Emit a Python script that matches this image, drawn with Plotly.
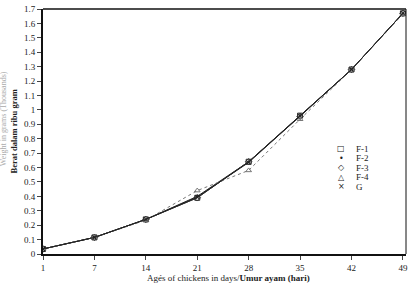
import plotly.graph_objects as go

ages = ["1", "7", "14", "21", "28", "35", "42", "49"]
f1 = [0.035, 0.115, 0.24, 0.39, 0.64, 0.96, 1.28, 1.67]
f2 = [0.035, 0.115, 0.24, 0.40, 0.64, 0.96, 1.28, 1.67]
f3 = [0.035, 0.115, 0.24, 0.39, 0.64, 0.955, 1.28, 1.67]
f4 = [0.035, 0.115, 0.235, 0.44, 0.58, 0.935, 1.28, 1.665]
g = [0.035, 0.115, 0.24, 0.395, 0.635, 0.96, 1.28, 1.67]
names = ["F-1", "F-2", "F-3", "F-4", "G"]
legend_glyphs = ["\u25a1", "\u2022", "\u25c7", "\u25b3", "\u00d7"]

series = [
    (f1, "square-open", "#222", "solid", 5),
    (f2, "circle", "#222", "solid", 2),
    (f3, "diamond-open", "#333", "solid", 5),
    (f4, "triangle-up-open", "#777", "dot", 5),
    (g, "x-thin-open", "#222", "solid", 4),
]

fig = go.Figure()
for name, (ys, sym, col, dash, sz) in zip(names, series):
    fig.add_trace(go.Scatter(
        x=ages, y=ys, name=name, mode="lines+markers", showlegend=False,
        line=dict(color=col, width=1, dash=dash),
        marker=dict(symbol=sym, size=sz, color=col, line=dict(color=col, width=1)),
    ))

font = "Liberation Serif, Times New Roman, serif"
fig.update_layout(
    width=412, height=283,
    margin=dict(l=43, r=4, t=5, b=29),
    paper_bgcolor="white", plot_bgcolor="white",
    font=dict(family=font, size=9, color="#222"),
    showlegend=False,
)
fig.update_xaxes(
    type="category", range=[0, 7.06],
    showline=True, linecolor="#111", linewidth=2, mirror=False,
    ticks="outside", ticklen=4, tickcolor="#444",
    showgrid=False, zeroline=False,
    tickfont=dict(size=9),
)
fig.update_yaxes(
    range=[0, 1.7], dtick=0.1, tick0=0,
    showline=True, linecolor="#111", linewidth=2,
    ticks="outside", ticklen=4, tickcolor="#444",
    showgrid=False, zeroline=False,
    tickfont=dict(size=9),
)
# top and right frame lines
fig.add_shape(type="line", xref="paper", yref="paper", x0=0, x1=1, y0=1, y1=1,
              line=dict(color="#111", width=1.5))
fig.add_shape(type="line", xref="paper", yref="paper", x0=1, x1=1, y0=0, y1=1,
              line=dict(color="#111", width=1))

# compact legend (glyph + label)
for i, (glyph, name) in enumerate(zip(legend_glyphs, names)):
    yp = 0.43 - i * 0.039
    fig.add_annotation(text=glyph, xref="paper", yref="paper", x=0.822, y=yp,
                       xanchor="center", yanchor="middle", showarrow=False,
                       font=dict(size=8, family="DejaVu Sans", color="#222"))
    fig.add_annotation(text=name, xref="paper", yref="paper", x=0.858, y=yp,
                       xanchor="left", yanchor="middle", showarrow=False,
                       font=dict(size=9, family=font, color="#222"))

fig.add_annotation(
    text="Ag\u00e9s of chickens in days/<b>Umur ayam (hari)</b>",
    xref="paper", yref="paper", x=0.51, y=0, yshift=-24, yanchor="middle",
    showarrow=False, font=dict(size=9, family=font),
)
fig.add_annotation(
    text="Weight in grams (Thousands)", textangle=-90,
    xref="paper", yref="paper", x=0, xshift=-40, y=0.55, xanchor="center",
    showarrow=False, font=dict(size=8, family=font, color="#aaa"),
)
fig.add_annotation(
    text="<b>Berat dalam ribu gram</b>", textangle=-90,
    xref="paper", yref="paper", x=0, xshift=-30, y=0.5, xanchor="center",
    showarrow=False, font=dict(size=8.5, family=font),
)

fig.write_html("out.html")
